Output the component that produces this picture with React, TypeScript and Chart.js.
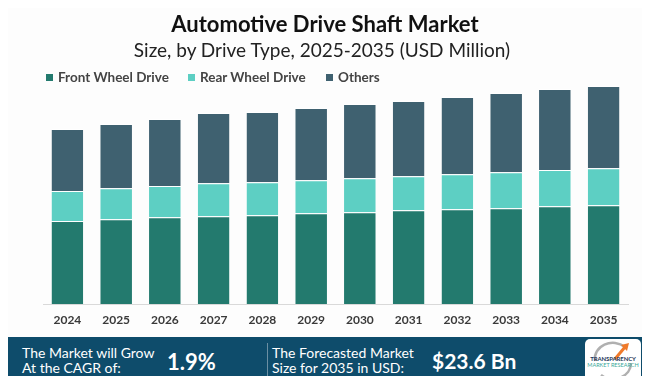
import React, { useEffect, useRef } from "react";
import { Chart, registerables } from "chart.js";

Chart.register(...registerables);

const years = ["2024", "2025", "2026", "2027", "2028", "2029", "2030", "2031", "2032", "2033", "2034", "2035"];
const frontWheel = [8990, 9170, 9390, 9490, 9600, 9820, 9930, 10140, 10250, 10360, 10580, 10690];
const rearWheel = [3250, 3360, 3390, 3570, 3570, 3570, 3680, 3680, 3790, 3900, 3930, 4010];
const others = [6710, 6960, 7250, 7610, 7610, 7830, 8040, 8150, 8370, 8590, 8770, 8910];
const seriesNames = ["Front Wheel Drive", "Rear Wheel Drive", "Others"];
const seriesColors = ["#237a6e", "#5dcfc3", "#3f6170"];

const FONT = "Lato, 'Open Sans', sans-serif";

export default function App() {
  const ref = useRef<HTMLCanvasElement | null>(null);

  useEffect(() => {
    if (!ref.current) return;
    const mk = (i: number, data: number[]) => ({
      label: seriesNames[i],
      data,
      backgroundColor: seriesColors[i],
      borderColor: "#ffffff",
      borderWidth: { top: 1, left: 0, right: 0, bottom: 0 },
      borderSkipped: false,
      categoryPercentage: 1,
      barPercentage: 0.65,
    });
    const chart = new Chart(ref.current, {
      type: "bar",
      data: {
        labels: years,
        datasets: [mk(0, frontWheel), mk(1, rearWheel), mk(2, others)],
      },
      options: {
        animation: false,
        responsive: false,
        maintainAspectRatio: false,
        layout: { padding: { left: 43, right: 22, top: 80, bottom: 50 } },
        plugins: { legend: { display: false }, title: { display: false }, tooltip: { enabled: false } },
        scales: {
          x: {
            stacked: true,
            grid: { display: false, drawTicks: false },
            border: { display: true, color: "#d9d9d9", width: 1 },
            ticks: { color: "#3a3a3a", padding: 9, font: { family: FONT, size: 12, weight: "bold" } },
            afterFit: (s: any) => { s.height = 30; },
          },
          y: { stacked: true, display: false, min: 0, max: 24250 },
        },
      } as any,
    });
    return () => chart.destroy();
  }, []);

  const legendX = [46, 188, 326];

  return (
    <div style={{ position: "relative", width: 650, height: 384, margin: -8, background: "#fdfdfd", overflow: "hidden", fontFamily: FONT }}>
      <canvas ref={ref} width={650} height={384} style={{ position: "absolute", left: 0, top: 0 }} />
      <div style={{ position: "absolute", left: 0, width: 650, top: 10, textAlign: "center", fontSize: 22, fontWeight: 700, color: "#111" }}>
        Automotive Drive Shaft Market
      </div>
      <div style={{ position: "absolute", left: 0, width: 644, top: 38, textAlign: "center", fontSize: 19, fontWeight: 400, color: "#222" }}>
        Size, by Drive Type, 2025-2035 (USD Million)
      </div>
      {seriesNames.map((n, i) => (
        <div key={n} style={{ position: "absolute", left: legendX[i], top: 69, display: "flex", alignItems: "center", fontSize: 13.5, fontWeight: 700, color: "#444" }}>
          <span style={{ display: "inline-block", width: 7, height: 7, background: seriesColors[i], marginRight: 5 }} />
          <span>{n}</span>
        </div>
      ))}
      <div style={{ position: "absolute", left: 0, top: 337, width: 650, height: 47, background: "#0e4c6b" }} />
      <div style={{ position: "absolute", left: 22, top: 345, color: "#fff", fontSize: 14, lineHeight: "15px", fontWeight: 400 }}>
        The Market will Grow<br />At the CAGR of:
      </div>
      <div style={{ position: "absolute", left: 167, top: 348, color: "#fff", fontSize: 22, fontWeight: 700 }}>1.9%</div>
      <div style={{ position: "absolute", left: 267, top: 343, width: 1, height: 35, background: "#6b8fa3" }} />
      <div style={{ position: "absolute", left: 272, top: 345, color: "#fff", fontSize: 14, lineHeight: "15px", fontWeight: 400 }}>
        The Forecasted Market<br />Size for 2035 in USD:
      </div>
      <div style={{ position: "absolute", left: 432, top: 348, color: "#fff", fontSize: 21, fontWeight: 700 }}>$23.6 Bn</div>
      <div style={{ position: "absolute", left: 585, top: 339, width: 56, height: 42, background: "#fff", borderRadius: 5 }}>
        <svg width={56} height={42} style={{ position: "absolute", left: 0, top: 0 }}>
          <path d="M10 22 A18 16 0 0 1 40 8" stroke="#b0b0b0" strokeWidth={2.5} fill="none" />
          <path d="M46 24 A18 16 0 0 1 16 36" stroke="#b0b0b0" strokeWidth={2.5} fill="none" />
          <path d="M30 20 L40 8" stroke="#f07a2a" strokeWidth={3} fill="none" />
          <path d="M36 6 L44 4 L42 12 Z" fill="#f07a2a" />
        </svg>
        <div style={{ position: "absolute", left: 0, width: 56, top: 16, textAlign: "center", fontSize: 6, fontWeight: 700, color: "#1d3557", letterSpacing: -0.1 }}>TRANSPARENCY</div>
        <div style={{ position: "absolute", left: 0, width: 56, top: 23, textAlign: "center", fontSize: 5.5, color: "#3aa89a" }}>MARKET RESEARCH</div>
      </div>
    </div>
  );
}
